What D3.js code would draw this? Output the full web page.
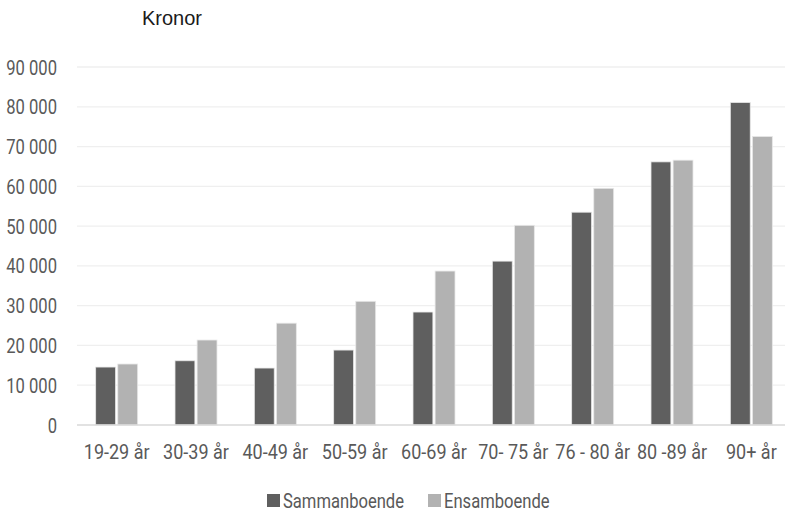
<!DOCTYPE html>
<html>
<head>
<meta charset="utf-8">
<script src="https://cdn.jsdelivr.net/npm/d3@7"></script>
<style>
  body { margin: 0; background: #fff; }
  .cond { font-family: "Roboto", sans-serif; }
</style>
</head>
<body>
<svg id="fig" width="785" height="513"></svg>
<script>
var categories = ["19-29 år", "30-39 år", "40-49 år", "50-59 år", "60-69 år", "70- 75 år", "76 - 80 år", "80 -89 år", "90+ år"];
var sammanboende = [14570, 16150, 14320, 18840, 28400, 41200, 53500, 66150, 81080];
var ensamboende  = [15330, 21360, 25600, 31100, 38700, 50200, 59500, 66580, 72540];
var seriesNames = ["Sammanboende", "Ensamboende"];
var yTicks = [0, 10000, 20000, 30000, 40000, 50000, 60000, 70000, 80000, 90000];

var svg = d3.select("#fig");
var width = +svg.attr("width"), height = +svg.attr("height");
var margin = { left: 77, right: -6, top: 67, bottom: 88 };
var colors = ["#5f5f5f", "#b2b2b2"];
var squeeze = 0.83; // stand-in for the condensed face

var xSc = d3.scaleBand()
            .domain(categories)
            .range([margin.left, width - margin.right])
            .paddingInner(0).paddingOuter(0);

var inner = d3.scaleBand()
              .domain(seriesNames)
              .range([xSc.bandwidth() / 2 - 21, xSc.bandwidth() / 2 + 21])
              .paddingInner(0.1);

var ySc = d3.scaleLinear()
            .domain([0, 90000])
            .range([height - margin.bottom, margin.top]);

var fmt = function(d) { return d3.format(",")(d).replace(/,/g, " "); };

// gridlines
svg.append("g")
   .selectAll("line")
   .data(yTicks.slice(1))
   .enter().append("line")
   .attr("x1", margin.left).attr("x2", width)
   .attr("y1", d => ySc(d)).attr("y2", d => ySc(d))
   .attr("stroke", "#efefef").attr("stroke-width", 1.3);

// y labels
svg.append("g")
   .selectAll("text")
   .data(yTicks)
   .enter().append("text")
   .attr("class", "cond")
   .attr("transform", d => `translate(57,${ySc(d) + 7.5}) scale(${squeeze},1)`)
   .attr("text-anchor", "end")
   .attr("font-size", 20)
   .attr("fill", "#595959")
   .text(fmt);

// bars
var rows = categories.map((c, i) => ({ cat: c, vals: [sammanboende[i], ensamboende[i]] }));
var groups = svg.append("g")
   .selectAll("g")
   .data(rows)
   .enter().append("g")
   .attr("transform", d => `translate(${xSc(d.cat)},0)`);

groups.selectAll("rect")
   .data(d => d.vals.map((v, j) => ({ name: seriesNames[j], v: v, j: j })))
   .enter().append("rect")
   .attr("x", d => inner(d.name))
   .attr("width", inner.bandwidth())
   .attr("y", d => ySc(d.v))
   .attr("height", d => ySc(0) - ySc(d.v))
   .attr("fill", d => colors[d.j])
   .attr("stroke", "#e8e8e8").attr("stroke-width", 0.8);

// baseline
svg.append("line")
   .attr("x1", margin.left).attr("x2", width)
   .attr("y1", ySc(0)).attr("y2", ySc(0))
   .attr("stroke", "#d9d9d9").attr("stroke-width", 1.3);

// x labels
svg.append("g")
   .selectAll("text")
   .data(categories)
   .enter().append("text")
   .attr("class", "cond")
   .attr("transform", d => `translate(${xSc(d) + xSc.bandwidth() / 2},459) scale(0.9,1)`)
   .attr("text-anchor", "middle")
   .attr("font-size", 20)
   .attr("fill", "#595959")
   .text(d => d);

// title
svg.append("text")
   .attr("x", 142).attr("y", 25)
   .attr("font-family", "'Liberation Sans', Arial, sans-serif")
   .attr("font-size", 20)
   .attr("fill", "#1a1a1a")
   .text("Kronor");

// legend
var legX = [267, 428];
var leg = svg.append("g")
   .selectAll("g")
   .data(seriesNames)
   .enter().append("g")
   .attr("transform", (d, i) => `translate(${legX[i]},494)`);
leg.append("rect")
   .attr("width", 13).attr("height", 13)
   .attr("fill", (d, i) => colors[i]);
leg.append("text")
   .attr("class", "cond")
   .attr("transform", `translate(16,13.5) scale(${squeeze},1)`)
   .attr("font-size", 20)
   .attr("fill", "#595959")
   .text(d => d);
</script>
</body>
</html>
